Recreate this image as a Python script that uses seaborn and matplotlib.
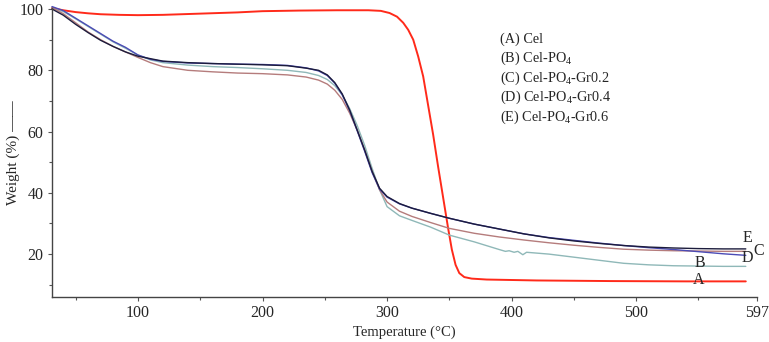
import numpy as np
import pandas as pd
import matplotlib
matplotlib.use("Agg")
import matplotlib.pyplot as plt
import seaborn as sns

# TGA curves
temp_a = [31, 40, 50, 60, 70, 85, 100, 120, 150, 180, 200, 230, 260, 285, 295, 302, 308, 313, 317, 321,
          325, 329, 333, 337, 341, 345, 349, 352, 355, 358, 362, 368, 380, 420, 480, 540, 588]
weight_a = [100.3, 99.6, 99.0, 98.6, 98.3, 98.1, 98.0, 98.1, 98.5, 98.9, 99.3, 99.5, 99.6, 99.6, 99.4, 98.7,
            97.5, 95.5, 93.2, 90.0, 84.5, 78.0, 68.5, 59.0, 48.5, 38.5, 28.5, 21.5, 16.5, 13.8, 12.5, 12.0,
            11.7, 11.4, 11.2, 11.1, 11.1]

temp_b = [31, 40, 50, 60, 70, 80, 90, 100, 110, 120, 140, 160, 180, 200, 220, 235, 245, 252, 258, 264, 270,
          276, 282, 288, 294, 300, 310, 320, 335, 350, 370, 390, 395, 398, 402, 405, 409, 412, 430, 450, 470,
          490, 510, 530, 550, 570, 588]
weight_b = [100.3, 99.2, 96.8, 94.3, 91.8, 89.3, 87.2, 85.0, 83.4, 82.5, 81.7, 81.2, 80.9, 80.5, 80.0, 79.3,
            78.3, 77.0, 75.0, 72.0, 67.5, 62.0, 55.5, 48.0, 41.0, 35.5, 32.5, 31.0, 28.8, 26.2, 24.0, 21.5,
            20.9, 21.1, 20.6, 20.9, 19.8, 20.6, 20.0, 19.0, 18.0, 17.0, 16.5, 16.2, 16.1, 16.0, 16.0]

temp_cde = [31, 40, 50, 60, 70, 80, 90, 100, 110, 120, 140, 160, 180, 200, 220, 235, 245, 252, 258, 264, 270,
            276, 282, 288, 294, 300, 310, 320, 335, 350, 370, 390, 410, 430, 450, 470, 490, 510, 530, 550,
            570, 588]
weight_c = [100.5, 98.5, 95.5, 92.5, 90.0, 87.8, 86.0, 84.2, 82.5, 81.2, 80.0, 79.5, 79.1, 78.9, 78.5, 77.8,
            76.8, 75.5, 73.5, 70.5, 66.0, 60.5, 54.0, 47.0, 41.0, 37.0, 34.0, 32.3, 30.3, 28.4, 26.8, 25.6,
            24.6, 23.7, 22.9, 22.2, 21.6, 21.3, 21.1, 21.0, 20.9, 20.9]
weight_d = [100.8, 99.5, 97.0, 94.5, 92.0, 89.5, 87.5, 85.0, 83.6, 82.9, 82.4, 82.2, 82.0, 81.9, 81.6, 80.8,
            79.8, 78.3, 75.8, 72.0, 66.8, 60.3, 53.6, 46.6, 41.2, 38.6, 36.4, 35.0, 33.3, 31.7, 29.8, 28.2,
            26.6, 25.4, 24.5, 23.6, 22.8, 22.1, 21.5, 20.8, 20.1, 19.6]
weight_e = [100.0, 98.0, 95.0, 92.3, 89.8, 87.8, 86.0, 84.6, 83.8, 83.0, 82.5, 82.2, 82.0, 81.8, 81.5, 80.7,
            80.0, 78.5, 76.0, 72.3, 67.0, 60.5, 54.0, 47.0, 41.5, 38.8, 36.5, 35.0, 33.3, 31.7, 29.8, 28.2,
            26.6, 25.3, 24.3, 23.5, 22.8, 22.3, 22.0, 21.8, 21.7, 21.7]

labels = ["A", "B", "C", "D", "E"]
legend_names = ["(A) Cel", "(B) Cel-PO$_{\\mathrm{4}}$", "(C) Cel-PO$_{\\mathrm{4}}$-Gr0.2",
                "(D) Cel-PO$_{\\mathrm{4}}$-Gr0.4", "(E) Cel-PO$_{\\mathrm{4}}$-Gr0.6"]
colors = ["#ff2a1a", "#8fb8b8", "#b57c7c", "#4b4bb5", "#1c1c3c"]
widths = [1.4, 1.0, 1.0, 1.0, 1.0]

x_ticks = [100, 200, 300, 400, 500, 597]
y_ticks = [20, 40, 60, 80, 100]

sns.set_style("ticks")
plt.rcParams["font.family"] = ["Liberation Serif", "DejaVu Serif"]
plt.rcParams["mathtext.fontset"] = "custom"
plt.rcParams["mathtext.rm"] = "Liberation Serif"

frames = []
for lab, t, w in zip(labels, [temp_a, temp_b, temp_cde, temp_cde, temp_cde],
                     [weight_a, weight_b, weight_c, weight_d, weight_e]):
    frames.append(pd.DataFrame({"Temperature": t, "Weight": w, "Sample": lab}))
df = pd.concat(frames, ignore_index=True)

fig = plt.figure(figsize=(7.69, 3.42), dpi=100)
ax = fig.add_axes([52 / 769, (342 - 297) / 342, (757 - 52) / 769, (297 - 7.5) / 342])

for lab, col, lw in zip(labels, colors, widths):
    sub = df[df["Sample"] == lab]
    sns.lineplot(data=sub, x="Temperature", y="Weight", color=col, linewidth=lw,
                 estimator=None, sort=False, ax=ax, clip_on=False)

ax.set_xlim(31, 597)
ax.set_ylim(6, 100.5)
ax.set_xticks(x_ticks)
ax.set_xticks(np.arange(50, 597, 50), minor=True)
ax.set_yticks(y_ticks)
ax.set_yticks(np.arange(10, 100, 20), minor=True)
ax.tick_params(axis="both", which="major", labelsize=11.5, length=3, width=0.8, color="#555555", pad=3)
ax.tick_params(axis="both", which="minor", length=2, width=0.8, color="#555555")
sns.despine(ax=ax)
for side in ["left", "bottom"]:
    ax.spines[side].set_color("#444444")
    ax.spines[side].set_linewidth(1.0)

ax.set_xlabel("Temperature (°C)", fontsize=10.5)
ax.xaxis.set_label_coords(0.5, -0.1)
ax.set_ylabel("Weight (%) \u2014\u2014", fontsize=11)
ax.yaxis.set_label_coords(-0.045, 0.5)

# legend block as plain text
for i, name in enumerate(legend_names):
    ax.text(0.635, 0.892 - i * 0.0675, name, transform=ax.transAxes, fontsize=10.3,
            va="center", ha="left")

# curve end letters
letter_pos = {"E": (589, 25.2), "C": (598.5, 20.9), "D": (589.5, 18.6), "B": (551, 17.0), "A": (550, 11.4)}
for lab, (lx, ly) in letter_pos.items():
    ax.text(lx, ly, lab, fontsize=11.5, ha="center", va="center", clip_on=False)

fig.savefig("out.png", dpi=100)
